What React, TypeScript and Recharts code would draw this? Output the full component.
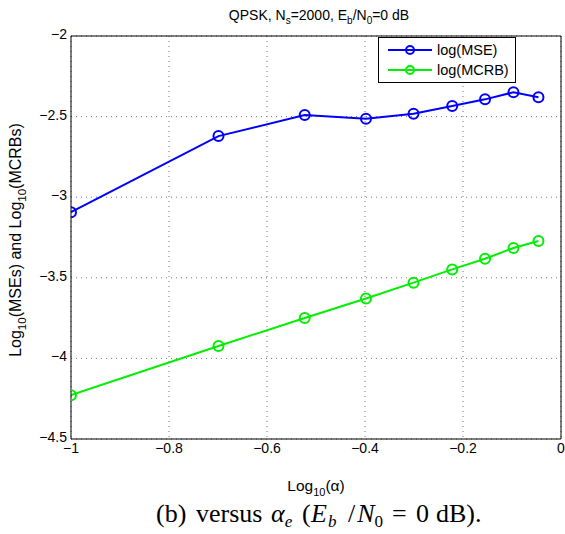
import React from 'react';
import { LineChart, Line, XAxis, YAxis, CartesianGrid, Legend, ReferenceLine, Label } from 'recharts';

const logAlpha = [-1, -0.699, -0.523, -0.398, -0.301, -0.222, -0.155, -0.097, -0.046];
const logMse = [-3.093, -2.621, -2.49, -2.513, -2.482, -2.434, -2.393, -2.349, -2.38];
const logMcrb = [-4.228, -3.923, -3.749, -3.628, -3.53, -3.448, -3.382, -3.315, -3.272];
const xTicks = [-1, -0.8, -0.6, -0.4, -0.2, 0];
const yTicks = [-4.5, -4, -3.5, -3, -2.5, -2];

const seriesInfo = [
  { key: 'mse', name: 'log(MSE)', color: '#0000ff' },
  { key: 'mcrb', name: 'log(MCRB)', color: '#00ee00' },
];

const rows = logAlpha.map((x, i) => ({ x, mse: logMse[i], mcrb: logMcrb[i] }));

const font = '"Liberation Sans", Arial, Helvetica, sans-serif';
const serif = '"Liberation Serif", "Times New Roman", serif';
const fmt = (v: number) => String(v).replace('-', '\u2212');

const LegendBox = () => (
  <div
    style={{
      width: 138,
      height: 46,
      border: '1px solid #000',
      background: '#fff',
      fontFamily: font,
      fontSize: 14.5,
      boxSizing: 'border-box',
      paddingTop: 2,
    }}
  >
    {seriesInfo.map((s) => (
      <div key={s.key} style={{ display: 'flex', alignItems: 'center', height: 20 }}>
        <svg width={58} height={20}>
          <line x1={9} y1={10} x2={53} y2={10} stroke={s.color} strokeWidth={2} />
          <circle cx={31} cy={10} r={4} fill="none" stroke={s.color} strokeWidth={2} />
        </svg>
        <span>{s.name}</span>
      </div>
    ))}
  </div>
);

export default function App() {
  return (
    <div style={{ position: 'absolute', left: 0, top: 0, width: 565, height: 534, background: '#fff' }}>
      <LineChart
        width={565}
        height={534}
        data={rows}
        margin={{ top: 36, right: 4, bottom: 65, left: 11 }}
        style={{ fontFamily: font }}
      >
        <CartesianGrid stroke="#777" strokeDasharray="1 4" />
        <XAxis
          type="number"
          dataKey="x"
          domain={[-1, 0]}
          ticks={xTicks}
          interval={0}
          tickFormatter={fmt}
          allowDataOverflow
          height={30}
          stroke="#000"
          tickLine={false}
          tickSize={0}
          tickMargin={4}
          tick={{ fill: '#000', fontSize: 14 }}
        >
          <Label content={() => (
            <text x={316} y={491} textAnchor="middle" fontSize={15.5} fill="#000" fontFamily={font}>
              Log<tspan dy={5} fontSize={11}>10</tspan><tspan dy={-5}>(α)</tspan>
            </text>
          )} />
        </XAxis>
        <YAxis
          type="number"
          domain={[-4.5, -2]}
          ticks={yTicks}
          interval={0}
          tickFormatter={fmt}
          allowDataOverflow
          width={60}
          stroke="#000"
          tickLine={false}
          tickSize={0}
          tickMargin={4}
          tick={{ fill: '#000', fontSize: 14, dy: -2 }}
        >
          <Label content={() => (
            <text x={21} y={240} textAnchor="middle" fontSize={16} fill="#000" fontFamily={font} transform="rotate(-90 21 240)">
              Log<tspan dy={5} fontSize={11.5}>10</tspan><tspan dy={-5}>(MSEs) and Log</tspan><tspan dy={5} fontSize={11.5}>10</tspan><tspan dy={-5}>(MCRBs)</tspan>
            </text>
          )} />
        </YAxis>
        <ReferenceLine y={-2} stroke="#000" />
        <ReferenceLine x={0} stroke="#000" />
        <Legend
          layout="vertical"
          align="center"
          verticalAlign="middle"
          wrapperStyle={{ left: 378, top: 37, width: 138, height: 46 }}
          content={() => <LegendBox />}
        />
        {seriesInfo.map((s) => (
          <Line
            key={s.key}
            dataKey={s.key}
            name={s.name}
            stroke={s.color}
            strokeWidth={2}
            dot={{ r: 5, fill: 'none', stroke: s.color, strokeWidth: 2 }}
            isAnimationActive={false}
          />
        ))}
      </LineChart>
      <svg width={565} height={534} style={{ position: 'absolute', left: 0, top: 0, pointerEvents: 'none' }}>
        <text x={319} y={20} textAnchor="middle" fontSize={14} fontFamily={font} fill="#000">
          QPSK, N<tspan dy={4} fontSize={10}>s</tspan><tspan dy={-4}>=2000, E</tspan><tspan dy={4} fontSize={10}>b</tspan><tspan dy={-4}>/N</tspan><tspan dy={4} fontSize={10}>0</tspan><tspan dy={-4}>=0 dB</tspan>
        </text>
        <text y={522} fontSize={26} fontFamily={serif} fill="#000">
          <tspan x={156}>(b)</tspan>
          <tspan x={196}>versus</tspan>
          <tspan x={271} fontStyle="italic">α</tspan>
          <tspan fontStyle="italic" dy={5} fontSize={17}>e</tspan>
          <tspan x={302} dy={-5}>(</tspan>
          <tspan x={311} fontStyle="italic">E</tspan>
          <tspan fontStyle="italic" dx={1} dy={5} fontSize={17}>b</tspan>
          <tspan x={348} dy={-5}>/</tspan>
          <tspan dx={2} fontStyle="italic">N</tspan>
          <tspan dy={5} fontSize={17}>0</tspan>
          <tspan x={392} dy={-5}>=</tspan>
          <tspan x={416}>0</tspan>
          <tspan x={436}>dB).</tspan>
        </text>
      </svg>
    </div>
  );
}
